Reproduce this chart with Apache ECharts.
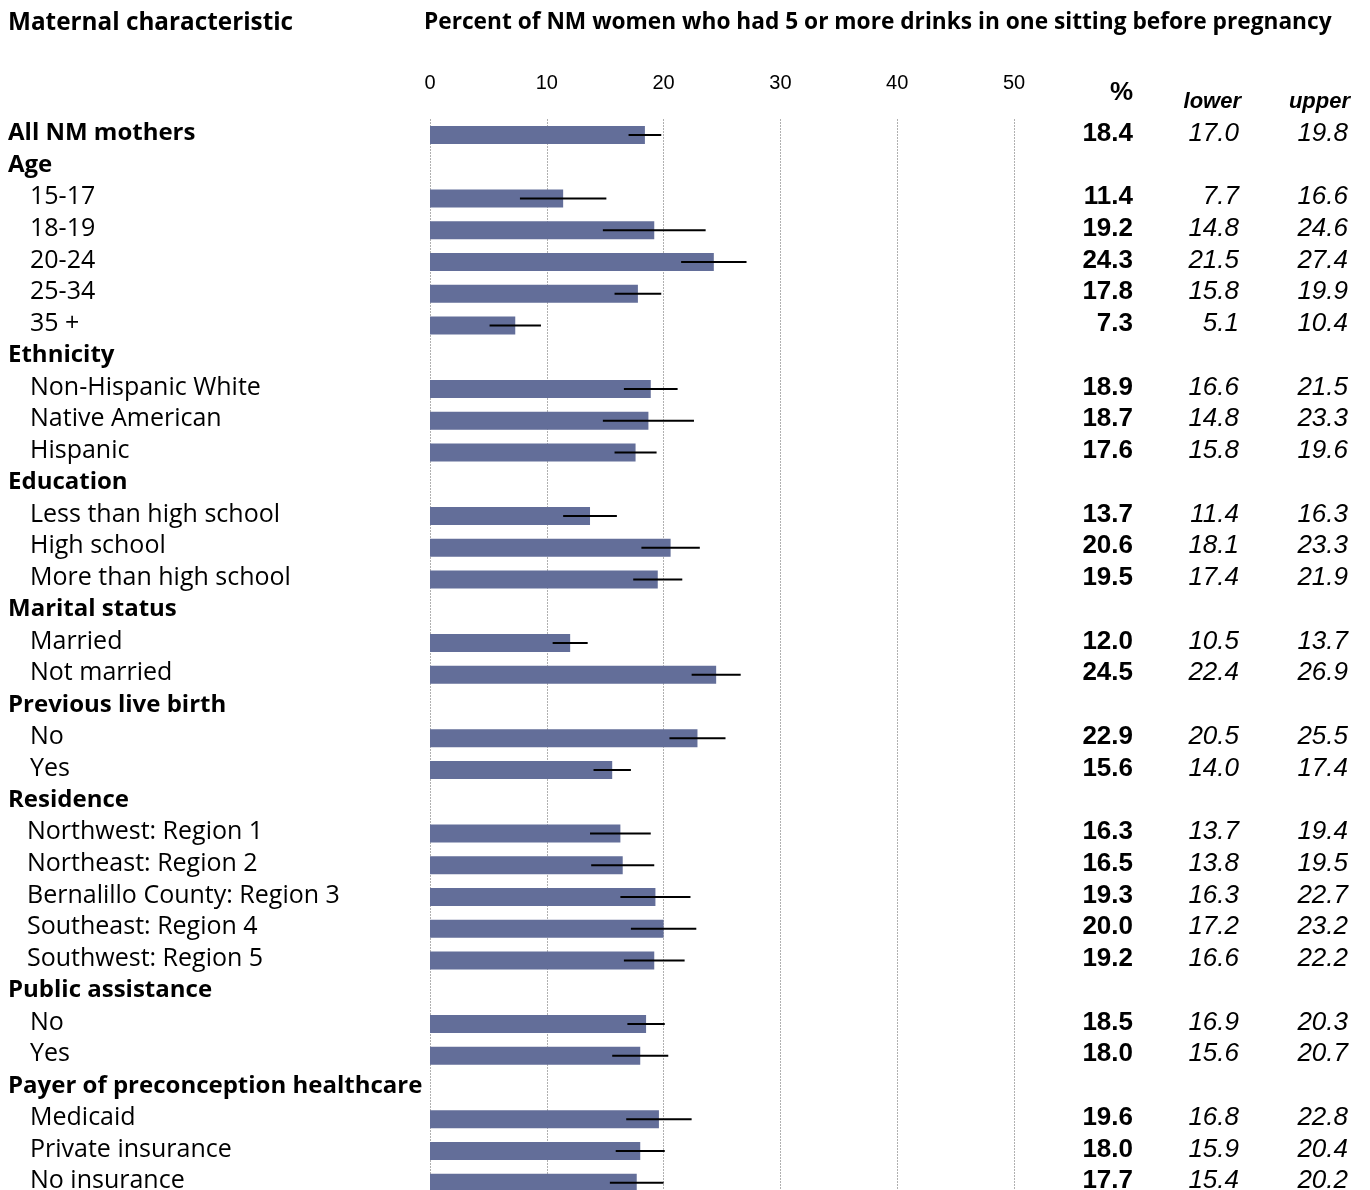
<!DOCTYPE html>
<html>
<head>
<meta charset="utf-8">
<script src="https://cdn.jsdelivr.net/npm/echarts@6/dist/echarts.min.js"></script>
<style>
  html, body { margin: 0; padding: 0; background: #fff; overflow: hidden; }
  #chart { width: 1370px; height: 1210px; }
</style>
</head>
<body>
<div id="chart"></div>
<script>
// Rows of the table, top to bottom. Group headings carry no values.
const rowLabels = [
  'All NM mothers',
  'Age', '15-17', '18-19', '20-24', '25-34', '35 +',
  'Ethnicity', 'Non-Hispanic White', 'Native American', 'Hispanic',
  'Education', 'Less than high school', 'High school', 'More than high school',
  'Marital status', 'Married', 'Not married',
  'Previous live birth', 'No', 'Yes',
  'Residence', 'Northwest: Region 1', 'Northeast: Region 2', 'Bernalillo County: Region 3',
  'Southeast: Region 4', 'Southwest: Region 5',
  'Public assistance', 'No', 'Yes',
  'Payer of preconception healthcare', 'Medicaid', 'Private insurance', 'No insurance'
];
const headingRows = [
  true,
  true, false, false, false, false, false,
  true, false, false, false,
  true, false, false, false,
  true, false, false,
  true, false, false,
  true, false, false, false, false, false,
  true, false, false,
  true, false, false, false
];
const pct = [
  18.4,
  null, 11.4, 19.2, 24.3, 17.8, 7.3,
  null, 18.9, 18.7, 17.6,
  null, 13.7, 20.6, 19.5,
  null, 12.0, 24.5,
  null, 22.9, 15.6,
  null, 16.3, 16.5, 19.3, 20.0, 19.2,
  null, 18.5, 18.0,
  null, 19.6, 18.0, 17.7
];
const lower = [
  17.0,
  null, 7.7, 14.8, 21.5, 15.8, 5.1,
  null, 16.6, 14.8, 15.8,
  null, 11.4, 18.1, 17.4,
  null, 10.5, 22.4,
  null, 20.5, 14.0,
  null, 13.7, 13.8, 16.3, 17.2, 16.6,
  null, 16.9, 15.6,
  null, 16.8, 15.9, 15.4
];
const upper = [
  19.8,
  null, 16.6, 24.6, 27.4, 19.9, 10.4,
  null, 21.5, 23.3, 19.6,
  null, 16.3, 23.3, 21.9,
  null, 13.7, 26.9,
  null, 25.5, 17.4,
  null, 19.4, 19.5, 22.7, 23.2, 22.2,
  null, 20.3, 20.7,
  null, 22.8, 20.4, 20.2
];
const axisMin = 0, axisMax = 50, axisStep = 10;

const titleText = 'Percent of NM women who had 5 or more drinks in one sitting before pregnancy';
const leftHeading = 'Maternal characteristic';
const columnHeads = ['%', 'lower', 'upper'];

// Rows that carry estimates: [pct, lower, upper, rowIndex]
const estRows = [];
pct.forEach((v, i) => { if (v !== null) estRows.push([v, lower[i], upper[i], i]); });

const LABEL_FONT = '"Open Sans", "Noto Sans", sans-serif';
const NUM_FONT = '"Liberation Sans", Arial, sans-serif';
const GRID_LEFT = 430, GRID_W = 584, GRID_TOP = 119, ROW_H = 31.75;
const COL_X = [1133, 1239, 1348];

const chart = echarts.init(document.getElementById('chart'), null, { renderer: 'canvas' });

chart.setOption({
  animation: false,
  backgroundColor: '#fff',
  grid: { left: GRID_LEFT, top: GRID_TOP, width: GRID_W, height: ROW_H * rowLabels.length },
  xAxis: {
    type: 'value', position: 'top',
    min: axisMin, max: axisMax, interval: axisStep,
    axisLine: { show: false }, axisTick: { show: false },
    axisLabel: { margin: 26, color: '#000', fontFamily: NUM_FONT, fontSize: 20 },
    splitLine: { show: true, lineStyle: { color: '#b0b0b0', type: [2, 1], width: 1 } }
  },
  yAxis: {
    type: 'category', inverse: true, data: rowLabels,
    axisLine: { show: false }, axisTick: { show: false },
    axisLabel: {
      interval: 0, align: 'left', margin: GRID_LEFT - 8,
      formatter: (val, idx) => {
        if (headingRows[idx]) return '{h|' + val + '}';
        return (/Region/.test(val) ? '{r|' : '{i|') + val + '}';
      },
      rich: {
        h: { fontFamily: LABEL_FONT, fontWeight: 'bold', fontSize: 24, color: '#000', padding: [0, 0, 3, 0] },
        i: { fontFamily: LABEL_FONT, fontSize: 25, color: '#000', padding: [0, 0, 3, 22] },
        r: { fontFamily: LABEL_FONT, fontSize: 25, color: '#000', padding: [0, 0, 3, 19] }
      }
    },
    splitLine: { show: false }
  },
  graphic: [
    { type: 'text', left: 8, top: 11, style: { text: leftHeading, font: 'bold 24.3px ' + LABEL_FONT, fill: '#000' } },
    { type: 'text', left: 424, top: 11, style: { text: titleText, font: 'bold 22.7px ' + LABEL_FONT, fill: '#000' } },
    { type: 'text', x: COL_X[0], y: 93, style: { text: columnHeads[0], font: 'bold 26px ' + NUM_FONT, fill: '#000', align: 'right', verticalAlign: 'middle' } },
    { type: 'text', x: COL_X[1] + 2, y: 102, style: { text: columnHeads[1], font: 'italic bold 22px ' + NUM_FONT, fill: '#000', align: 'right', verticalAlign: 'middle' } },
    { type: 'text', x: COL_X[2] + 2, y: 102, style: { text: columnHeads[2], font: 'italic bold 22px ' + NUM_FONT, fill: '#000', align: 'right', verticalAlign: 'middle' } }
  ],
  series: [
    {
      type: 'bar', data: pct, barWidth: 18, z: 2,
      itemStyle: { color: '#636e99' },
      silent: true
    },
    {
      // Whiskers drawn over the bars, symmetric: estimate ± (estimate − lower bound)
      type: 'custom', silent: true, clip: false, z: 10,
      data: estRows, encode: { x: [1, 2], y: 3 },
      renderItem: (params, api) => {
        const r = estRows[params.dataIndex];
        const half = r[0] - r[1];
        const a = api.coord([r[0] - half, r[3]]);
        const b = api.coord([r[0] + half, r[3]]);
        return {
          type: 'line',
          z2: 10,
          shape: { x1: a[0], y1: a[1], x2: b[0], y2: b[1] },
          style: { stroke: '#000', lineWidth: 2 }
        };
      }
    },
    {
      // Value columns on the right: %, lower, upper
      type: 'custom', silent: true, clip: false, z: 10,
      data: estRows, encode: { x: 0, y: 3 },
      renderItem: (params, api) => {
        const r = estRows[params.dataIndex];
        const y = api.coord([0, r[3]])[1] - 1.5;
        return {
          type: 'group',
          children: [r[0], r[1], r[2]].map((v, k) => ({
            type: 'text',
            x: COL_X[k], y: y,
            style: {
              text: v.toFixed(1),
              font: (k === 0 ? 'bold ' : 'italic ') + '26px ' + NUM_FONT,
              fill: '#000', align: 'right', verticalAlign: 'middle'
            }
          }))
        };
      }
    }
  ]
});
</script>
</body>
</html>
